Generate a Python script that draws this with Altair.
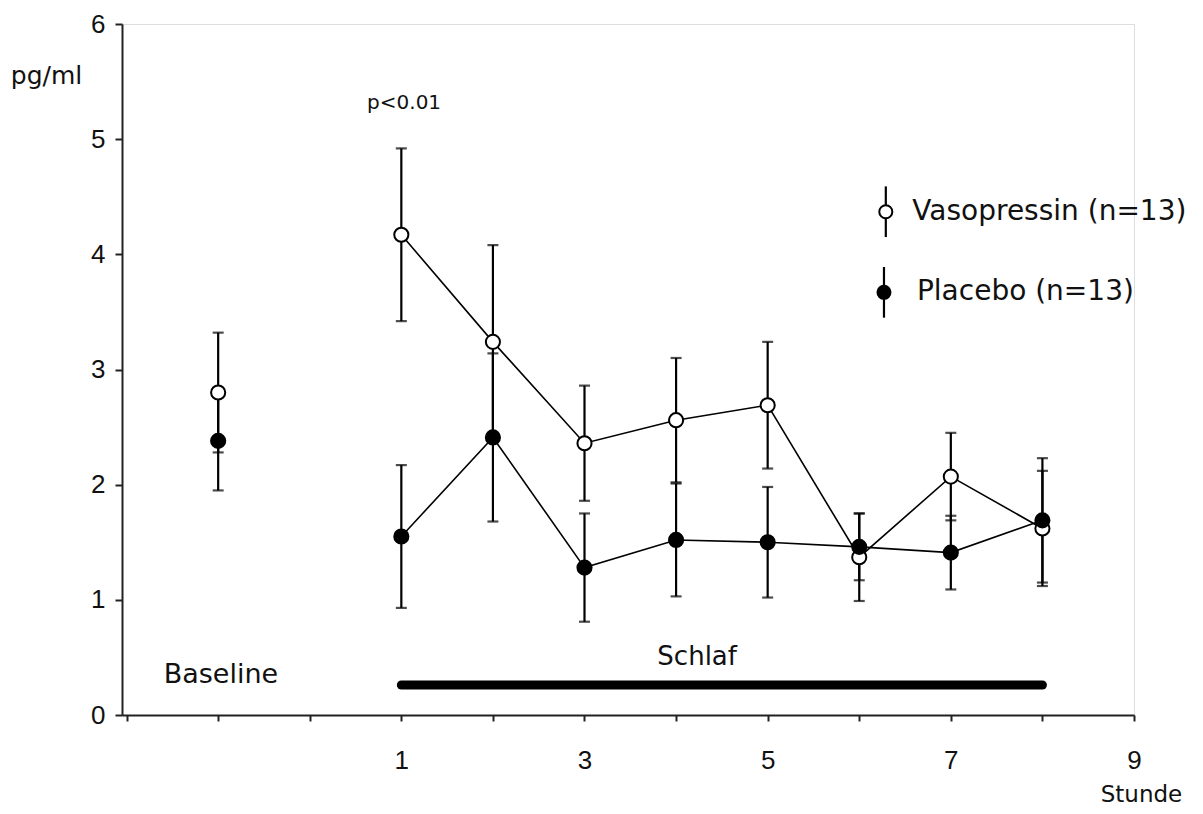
import altair as alt
import pandas as pd

# ---- data ----
hours = [-1, 1, 2, 3, 4, 5, 6, 7, 8]  # -1 = Baseline
vaso_mean = [2.80, 4.17, 3.24, 2.36, 2.56, 2.69, 1.37, 2.07, 1.62]
vaso_sem = [0.52, 0.75, 0.84, 0.50, 0.54, 0.55, 0.38, 0.38, 0.50]
placebo_mean = [2.38, 1.55, 2.41, 1.28, 1.52, 1.50, 1.46, 1.41, 1.69]
placebo_sem = [0.43, 0.62, 0.73, 0.47, 0.49, 0.48, 0.29, 0.32, 0.54]
series_names = ["Vasopressin (n=13)", "Placebo (n=13)"]
series_fill = ["white", "black"]

x_ticks = list(range(-2, 10))
y_ticks = [0, 1, 2, 3, 4, 5, 6]

sleep_start, sleep_end, sleep_level = 1, 8, 0.26

notes = ["p<0.01", "Baseline", "Schlaf"]
note_x = [1.03, -0.97, 4.23]
note_y = [5.31, 0.35, 0.50]
note_size = [20, 27, 26]

legend_x = [6.29, 6.27]
legend_y = [4.37, 3.67]
legend_half = 0.22
legend_text_x = [6.58, 6.63]

# ---- tables ----
rows = []
for name, means, sems in [(series_names[0], vaso_mean, vaso_sem),
                          (series_names[1], placebo_mean, placebo_sem)]:
    for h, m, s in zip(hours, means, sems):
        rows.append(dict(series=name, hour=h, mean=m, lo=m - s, hi=m + s))
df = pd.DataFrame(rows)

sleep_df = pd.DataFrame([dict(start=sleep_start, end=sleep_end, level=sleep_level)])
notes_df = pd.DataFrame(dict(text=notes, x=note_x, y=note_y, fs=note_size))
legend_df = pd.DataFrame(dict(series=series_names, x=legend_x, y=legend_y,
                              lo=[v - legend_half for v in legend_y],
                              hi=[v + legend_half for v in legend_y],
                              tx=legend_text_x))

FONT = "DejaVu Sans"
AXC = "#222222"

xscale = alt.Scale(domain=[-2.05, 9], nice=False, zero=False)
yscale = alt.Scale(domain=[0, 6], nice=False, zero=False)

xaxis = alt.Axis(values=x_ticks, title="Stunde", grid=False, labelFlush=False,
                 labelExpr="(datum.value > 0 && datum.value % 2 == 1) ? datum.label : ''",
                 labelFont="Liberation Sans", labelFontSize=26, labelColor="#111",
                 labelPadding=26, tickSize=6, tickWidth=2, tickColor=AXC,
                 domainColor=AXC, domainWidth=2,
                 titleFont=FONT, titleFontSize=23, titleFontWeight="normal",
                 titleColor="#111", titleX=1019, titleY=79,
                 titleAlign="center", titleBaseline="middle")
yaxis = alt.Axis(values=y_ticks, title="pg/ml", grid=False, labelFlush=False,
                 labelFont="Liberation Sans", labelFontSize=26, labelColor="#111",
                 labelPadding=10, tickSize=7, tickWidth=2, tickColor=AXC,
                 domainColor=AXC, domainWidth=2,
                 titleFont=FONT, titleFontSize=25, titleFontWeight="normal",
                 titleColor="#111", titleAngle=0, titleX=-76, titleY=51,
                 titleAlign="center", titleBaseline="middle")


def X(field):
    return alt.X(field, scale=xscale, axis=xaxis)


def Y(field):
    return alt.Y(field, scale=yscale, axis=yaxis)


fill = alt.Fill("series:N", scale=alt.Scale(domain=series_names, range=series_fill), legend=None)

base = alt.Chart(df)

lines = base.transform_filter("datum.hour >= 1").mark_line(
    color="black", strokeWidth=1.6).encode(x=X("hour:Q"), y=Y("mean:Q"), detail="series:N")

bars = base.mark_rule(color="black", strokeWidth=2.2).encode(
    x=X("hour:Q"), y=Y("lo:Q"), y2="hi:Q")

caps = base.transform_fold(["lo", "hi"], as_=["end", "val"]).mark_tick(
    orient="horizontal", size=11, thickness=2.2, color="black").encode(
    x=X("hour:Q"), y=Y("val:Q"))

points = base.mark_point(shape="circle", filled=True, size=200, stroke="black",
                         strokeWidth=2, opacity=1).encode(
    x=X("hour:Q"), y=Y("mean:Q"), fill=fill)

sleep = alt.Chart(sleep_df).mark_rule(color="black", strokeWidth=9, strokeCap="round").encode(
    x=X("start:Q"), x2="end:Q", y=Y("level:Q"))

note_text = alt.Chart(notes_df).mark_text(font=FONT, color="#111", align="center",
                                          baseline="middle").encode(
    x=X("x:Q"), y=Y("y:Q"), text="text:N", size=alt.Size("fs:Q", scale=None))

leg_base = alt.Chart(legend_df)
leg_bars = leg_base.mark_rule(color="black", strokeWidth=2.2).encode(
    x=X("x:Q"), y=Y("lo:Q"), y2="hi:Q")
leg_pts = leg_base.mark_point(shape="circle", filled=True, size=170, stroke="black",
                              strokeWidth=2, opacity=1).encode(
    x=X("x:Q"), y=Y("y:Q"), fill=fill)
leg_text = leg_base.mark_text(font=FONT, fontSize=28, color="#111", align="left",
                              baseline="middle").encode(
    x=X("tx:Q"), y=Y("y:Q"), text="series:N")

chart = alt.layer(lines, bars, caps, sleep, points, note_text,
                  leg_bars, leg_pts, leg_text).properties(
    width=1012, height=691,
    autosize=alt.AutoSizeParams(type="none"),
    padding={"left": 114, "top": 16, "right": 60, "bottom": 91},
).configure_view(stroke=None).configure(background="white")

chart.save("out.html", embed_options={"renderer": "svg", "actions": False})
